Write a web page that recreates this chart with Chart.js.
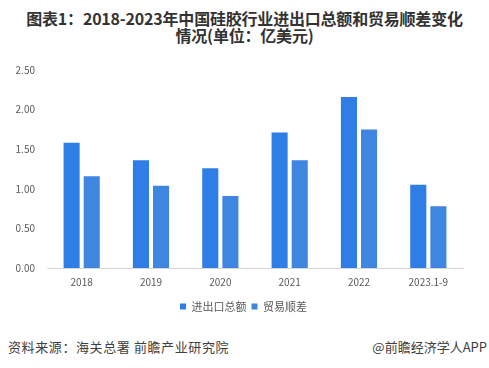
<!DOCTYPE html>
<html>
<head>
<meta charset="utf-8">
<script src="https://cdn.jsdelivr.net/npm/chart.js@4"></script>
<style>
    body { margin: 0; width: 489px; height: 368px; background: #fff; position: relative; overflow: hidden; font-family: "Noto Sans CJK SC", sans-serif; }
    #titulo { position: absolute; left: 0; top: 10px; width: 489px; text-align: center; font-weight: bold; font-size: 16px; line-height: 17px; color: #333; letter-spacing: -0.2px; }
    #caixa { position: absolute; left: 0; top: 50px; width: 489px; height: 276px; }
    #fonte { position: absolute; left: 8px; top: 337px; font-size: 13px; color: #404040; letter-spacing: 0.6px; }
    #app { position: absolute; right: 2px; top: 337px; font-size: 13px; color: #404040; }
</style>
</head>
<body>
<div id="titulo">图表1：2018-2023年中国硅胶行业进出口总额和贸易顺差变化<br>情况(单位：亿美元)</div>
<div id="caixa"><canvas id="grafico"></canvas></div>
<div id="fonte">资料来源：海关总署 前瞻产业研究院</div>
<div id="app">@前瞻经济学人APP</div>
<script>
const anos = ['2018', '2019', '2020', '2021', '2022', '2023.1-9'];
const totalComercio = [1.58, 1.36, 1.26, 1.71, 2.16, 1.05];
const saldoComercial = [1.16, 1.04, 0.91, 1.36, 1.75, 0.78];

// empurra a legenda um pouco para a direita, como no original
const deslocaLegenda = {
    id: 'deslocaLegenda',
    afterLayout(chart) {
        chart.legend.left += 12;
        chart.legend.right += 12;
    }
};

const ctx = document.getElementById('grafico').getContext('2d');
new Chart(ctx, {
    type: 'bar',
    data: {
        labels: anos,
        datasets: [
            {
                label: '进出口总额',
                data: totalComercio,
                backgroundColor: '#2f7ee6',
                categoryPercentage: 0.58,
                barPercentage: 0.8
            },
            {
                label: '贸易顺差',
                data: saldoComercial,
                backgroundColor: '#3f86e0',
                categoryPercentage: 0.58,
                barPercentage: 0.8
            }
        ]
    },
    options: {
        responsive: true,
        maintainAspectRatio: false,
        animation: false,
        layout: { padding: { top: 20, right: 26, left: 0, bottom: 4 } },
        plugins: {
            legend: {
                position: 'bottom',
                labels: {
                    boxWidth: 6,
                    boxHeight: 6,
                    padding: 5,
                    color: '#595959',
                    font: { size: 11, family: 'Noto Sans CJK SC' }
                }
            },
            tooltip: { enabled: false }
        },
        scales: {
            x: {
                grid: { display: false, drawTicks: false },
                border: { color: '#d9d9d9' },
                ticks: {
                    padding: 8,
                    color: '#595959',
                    font: { size: 10, family: 'Noto Sans CJK SC' }
                }
            },
            y: {
                min: 0,
                max: 2.5,
                afterFit: function (scale) { scale.width = 47; },
                grid: { display: false, drawTicks: false },
                border: { display: false },
                ticks: {
                    stepSize: 0.5,
                    padding: 12,
                    color: '#595959',
                    font: { size: 10, family: 'Noto Sans CJK SC' },
                    callback: function (v) { return Number(v).toFixed(2); }
                }
            }
        }
    },
    plugins: [deslocaLegenda]
});
</script>
</body>
</html>
